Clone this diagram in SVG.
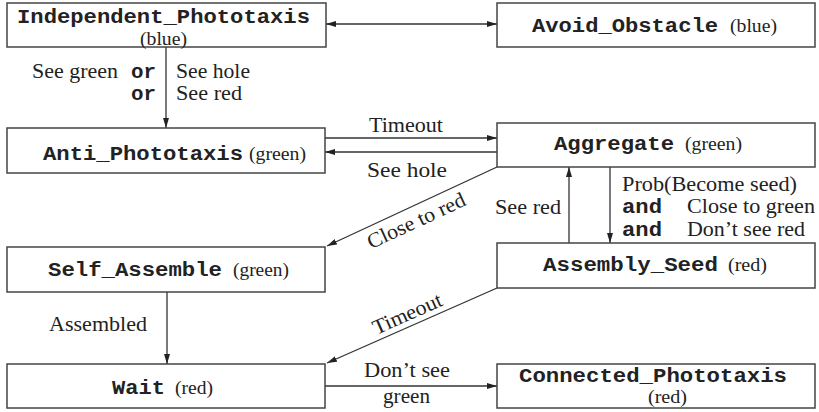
<svg xmlns="http://www.w3.org/2000/svg" width="819" height="412" viewBox="0 0 819 412">
<style>
.box{fill:#fff;stroke:#444;stroke-width:1.5}
.mono{font-family:"Liberation Mono","Courier New",monospace;font-weight:bold;font-size:20px;fill:#222}
.ser{font-family:"Liberation Serif","Times New Roman",serif;font-size:21px;fill:#222}
.col{font-family:"Liberation Serif","Times New Roman",serif;font-size:18px;fill:#222}
.edge{fill:none;stroke:#333;stroke-width:1.3}
</style>
<defs>
<marker id="ah" markerUnits="userSpaceOnUse" markerWidth="10" markerHeight="6" refX="10" refY="3" orient="auto-start-reverse">
<path d="M0,0 L10,3 L0,6 z" fill="#222"/>
</marker>
</defs>

<g id="connectors">
<line class="edge" x1="166" y1="47" x2="166" y2="128" marker-end="url(#ah)"/>
<line class="edge" x1="326" y1="24" x2="497" y2="24" marker-start="url(#ah)" marker-end="url(#ah)"/>
<line class="edge" x1="325" y1="138" x2="497" y2="138" marker-end="url(#ah)"/>
<line class="edge" x1="497" y1="152" x2="325" y2="152" marker-end="url(#ah)"/>
<line class="edge" x1="497" y1="167" x2="327" y2="246" marker-end="url(#ah)"/>
<line class="edge" x1="569" y1="243" x2="569" y2="167" marker-end="url(#ah)"/>
<line class="edge" x1="610" y1="167" x2="610" y2="243" marker-end="url(#ah)"/>
<line class="edge" x1="167" y1="292" x2="167" y2="364" marker-end="url(#ah)"/>
<line class="edge" x1="497" y1="288" x2="327" y2="363" marker-end="url(#ah)"/>
<line class="edge" x1="325" y1="386" x2="497" y2="386" marker-end="url(#ah)"/>

<text class="ser" x="32" y="78" textLength="86" lengthAdjust="spacingAndGlyphs">See green</text>
<text class="mono" x="131" y="78" textLength="25" lengthAdjust="spacingAndGlyphs">or</text>
<text class="ser" x="176" y="78" textLength="74" lengthAdjust="spacingAndGlyphs">See hole</text>
<text class="mono" x="131" y="100" textLength="25" lengthAdjust="spacingAndGlyphs">or</text>
<text class="ser" x="176" y="100" textLength="66" lengthAdjust="spacingAndGlyphs">See red</text>
<text class="ser" x="369" y="132" textLength="74" lengthAdjust="spacingAndGlyphs">Timeout</text>
<text class="ser" x="367" y="177" textLength="80" lengthAdjust="spacingAndGlyphs">See hole</text>
<text class="ser" transform="translate(419,227) rotate(-24.8)" text-anchor="middle" textLength="106" lengthAdjust="spacingAndGlyphs">Close to red</text>
<text class="ser" x="495" y="214" textLength="66" lengthAdjust="spacingAndGlyphs">See red</text>
<text class="ser" x="622" y="191" textLength="175" lengthAdjust="spacingAndGlyphs">Prob(Become seed)</text>
<text class="mono" x="622" y="213" textLength="40" lengthAdjust="spacingAndGlyphs">and</text>
<text class="ser" x="687" y="213" textLength="128" lengthAdjust="spacingAndGlyphs">Close to green</text>
<text class="mono" x="622" y="236" textLength="40" lengthAdjust="spacingAndGlyphs">and</text>
<text class="ser" x="687" y="236" textLength="118" lengthAdjust="spacingAndGlyphs">Don’t see red</text>
<text class="ser" x="49" y="331" textLength="98" lengthAdjust="spacingAndGlyphs">Assembled</text>
<text class="ser" transform="translate(410,320) rotate(-23.8)" text-anchor="middle" textLength="74" lengthAdjust="spacingAndGlyphs">Timeout</text>
<text class="ser" x="364" y="377" textLength="86" lengthAdjust="spacingAndGlyphs">Don’t see</text>
<text class="ser" x="383" y="403" textLength="47" lengthAdjust="spacingAndGlyphs">green</text>
</g>

<g id="independent_phototaxis">
<rect class="box" x="7" y="3" width="319" height="44"/>
<text class="mono" x="17" y="23" textLength="293" lengthAdjust="spacingAndGlyphs">Independent_Phototaxis</text>
<text class="col" x="140" y="44.5" textLength="47" lengthAdjust="spacingAndGlyphs">(blue)</text>
</g>

<g id="avoid_obstacle">
<rect class="box" x="497" y="3" width="318" height="44"/>
<text class="mono" x="532" y="32" textLength="186" lengthAdjust="spacingAndGlyphs">Avoid_Obstacle</text>
<text class="col" x="730" y="32" textLength="47" lengthAdjust="spacingAndGlyphs">(blue)</text>
</g>

<g id="anti_phototaxis">
<rect class="box" x="7" y="128" width="318" height="45"/>
<text class="mono" x="43" y="160" textLength="200" lengthAdjust="spacingAndGlyphs">Anti_Phototaxis</text>
<text class="col" x="249" y="160" textLength="57" lengthAdjust="spacingAndGlyphs">(green)</text>
</g>

<g id="aggregate">
<rect class="box" x="497" y="123" width="318" height="44"/>
<text class="mono" x="554" y="150" textLength="120" lengthAdjust="spacingAndGlyphs">Aggregate</text>
<text class="col" x="685" y="150" textLength="57" lengthAdjust="spacingAndGlyphs">(green)</text>
</g>

<g id="self_assemble">
<rect class="box" x="7" y="247" width="318" height="45"/>
<text class="mono" x="48" y="276" textLength="174" lengthAdjust="spacingAndGlyphs">Self_Assemble</text>
<text class="col" x="233" y="276" textLength="56" lengthAdjust="spacingAndGlyphs">(green)</text>
</g>

<g id="assembly_seed">
<rect class="box" x="497" y="243" width="318" height="45"/>
<text class="mono" x="543" y="271" textLength="175" lengthAdjust="spacingAndGlyphs">Assembly_Seed</text>
<text class="col" x="728" y="271" textLength="39" lengthAdjust="spacingAndGlyphs">(red)</text>
</g>

<g id="wait">
<rect class="box" x="7" y="364" width="318" height="44"/>
<text class="mono" x="112" y="394" textLength="53" lengthAdjust="spacingAndGlyphs">Wait</text>
<text class="col" x="175" y="394" textLength="38" lengthAdjust="spacingAndGlyphs">(red)</text>
</g>

<g id="connected_phototaxis">
<rect class="box" x="497" y="364" width="318" height="44"/>
<text class="mono" x="519" y="382" textLength="268" lengthAdjust="spacingAndGlyphs">Connected_Phototaxis</text>
<text class="col" x="648" y="403" textLength="39" lengthAdjust="spacingAndGlyphs">(red)</text>
</g>
</svg>
